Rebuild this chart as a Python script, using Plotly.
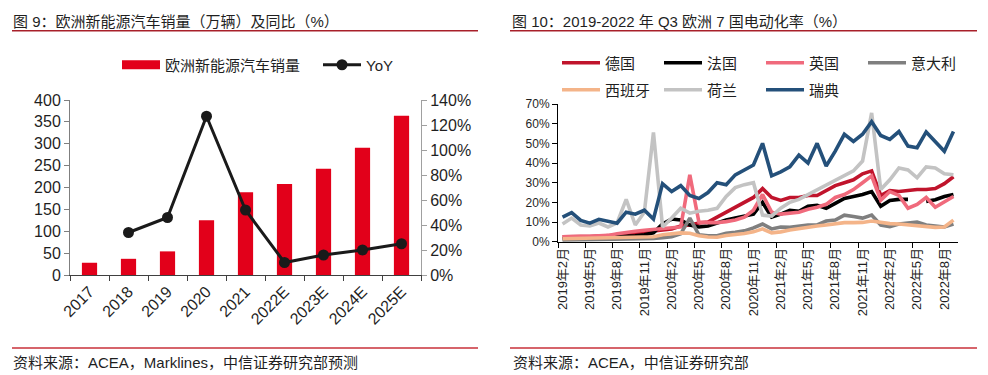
import plotly.graph_objects as go

# ---------------- Left chart data ----------------
years = ["2017", "2018", "2019", "2020", "2021", "2022E", "2023E", "2024E", "2025E"]
sales = [28, 37, 54, 125, 189, 208, 243, 291, 364]          # 万辆
yoy = [None, 34, 46, 127, 52, 10, 16, 20, 25]                # %

# ---------------- Right chart data ----------------
months = [
    "2019年2月", "2019年3月", "2019年4月", "2019年5月", "2019年6月", "2019年7月",
    "2019年8月", "2019年9月", "2019年10月", "2019年11月", "2019年12月",
    "2020年1月", "2020年2月", "2020年3月", "2020年4月", "2020年5月", "2020年6月",
    "2020年7月", "2020年8月", "2020年9月", "2020年10月", "2020年11月", "2020年12月",
    "2021年1月", "2021年2月", "2021年3月", "2021年4月", "2021年5月", "2021年6月",
    "2021年7月", "2021年8月", "2021年9月", "2021年10月", "2021年11月", "2021年12月",
    "2022年1月", "2022年2月", "2022年3月", "2022年4月", "2022年5月", "2022年6月",
    "2022年7月", "2022年8月", "2022年9月",
]
germany = [2.5, 2.7, 2.6, 2.6, 2.8, 2.7, 3.0, 3.5, 4.0, 4.5, 5.5, 6.0, 6.5, 8.0, 8.5,
           9.5, 10.0, 12.5, 15.0, 17.5, 20.0, 22.5, 27.0, 22.5, 21.0, 22.5, 22.5, 23.5,
           23.5, 26.0, 28.5, 30.0, 31.5, 34.5, 36.0, 23.5, 26.0, 25.5, 26.0, 26.5, 26.5,
           27.0, 29.5, 33.0]
france = [1.5, 1.8, 1.7, 2.0, 2.0, 2.2, 2.3, 2.5, 3.0, 3.5, 4.5, 9.0, 11.5, 11.0, 8.5,
          7.5, 8.0, 9.5, 11.0, 12.0, 13.0, 14.0, 20.0, 12.5, 14.0, 16.0, 15.5, 18.0,
          18.5, 17.0, 19.5, 22.0, 23.0, 24.0, 25.5, 18.0, 21.0, 21.5, 21.5, None, 20.5,
          21.3, 23.0, 24.0]
uk = [2.5, 2.8, 2.7, 2.8, 3.0, 3.2, 4.0, 4.8, 5.3, 5.8, 6.2, 6.5, 7.0, 7.5, 34.0,
      10.0, 9.7, 9.7, 10.2, 11.0, 12.5, 16.0, 24.0, 15.0, 14.0, 14.5, 15.0, 16.5,
      17.5, 19.0, 22.5, 24.0, 26.5, 30.0, 33.5, 21.0, 25.5, 23.5, 17.0, 19.0, 22.5,
      17.5, 20.5, 23.0]
italy = [0.8, 0.9, 0.9, 1.0, 1.0, 1.0, 1.0, 1.2, 1.3, 1.4, 1.6, 2.0, 2.5, 4.0, 12.0,
         3.5, 3.0, 3.0, 4.3, 4.8, 5.5, 7.0, 9.0, 6.5, 7.5, 7.3, 8.0, 8.5, 8.5, 10.5,
         11.0, 13.5, 12.8, 12.0, 13.5, 8.5, 7.7, 9.0, 9.5, 10.0, 8.5, 8.0, 7.5, 9.0]
spain = [1.5, 1.6, 1.5, 1.5, 1.6, 1.7, 1.8, 1.8, 1.9, 2.0, 2.5, 3.5, 4.0, 4.5, 4.3,
         3.0, 2.4, 2.3, 3.2, 3.5, 4.2, 5.0, 6.5, 4.5, 5.0, 6.0, 6.8, 7.5, 8.0, 8.5,
         9.0, 9.7, 9.7, 9.8, 10.5, 9.7, 9.2, 9.0, 8.5, 8.0, 7.5, 7.3, 7.5, 11.0]
netherlands = [9.0, 12.0, 8.5, 8.0, 9.5, 7.5, 9.5, 21.5, 8.5, 15.0, 55.5, 7.5, 12.0, 17.0,
               14.5, 15.5, 16.0, 17.0, 23.0, 27.5, 29.0, 30.0, 13.5, 13.0, 17.0, 20.0,
               21.5, 24.0, 26.5, 29.0, 31.5, 33.5, 36.0, 41.0, 65.5, 26.5, 31.5, 37.5,
               36.5, 32.5, 38.0, 37.5, 34.5, 34.0]
sweden = [12.5, 14.8, 10.8, 9.4, 11.4, 10.2, 9.4, 15.0, 14.0, 16.0, 11.5, 29.5, 25.5,
          28.5, 23.5, 22.0, 25.0, 30.0, 29.0, 34.0, 36.5, 39.0, 50.0, 33.5, 35.5, 38.0,
          44.0, 40.0, 50.0, 38.5, 46.0, 54.6, 51.0, 54.6, 61.0, 54.0, 52.0, 56.0, 48.6,
          47.8, 55.8, 51.0, 46.0, 56.0]

series_names = ["德国", "法国", "英国", "意大利", "西班牙", "荷兰", "瑞典"]
series_values = [germany, france, uk, italy, spain, netherlands, sweden]
series_colors = ["#C0142C", "#000000", "#F06A7C", "#7F7F7F", "#F4B489", "#C3C3C3", "#24507A"]
series_legend = ["legend2", "legend2", "legend2", "legend2", "legend3", "legend3", "legend3"]

FONT = "Liberation Sans, Arial, Noto Sans CJK SC, sans-serif"
TXT = "#1f1f1f"
# The page body has an 8px margin: the figure is sized so it fills the window exactly.
OFF = 8
W, H = 988 - OFF, 375 - OFF


def px_x(v):
    return (v - OFF) / W


def px_y(v):
    return 1 - (v - OFF) / H


fig = go.Figure()

# Left: bars
fig.add_trace(go.Bar(x=years, y=sales, marker_color="#E2001A", width=0.39,
                     xaxis="x", yaxis="y", showlegend=False,
                     name="欧洲新能源汽车销量"))
# legend key for the bars (wide red bar key as in the reference)
fig.add_trace(go.Scatter(x=[None], y=[None], mode="lines", xaxis="x", yaxis="y",
                         line=dict(color="#E2001A", width=9),
                         name="欧洲新能源汽车销量", legend="legend"))
fig.add_trace(go.Scatter(x=years, y=yoy, mode="lines+markers", xaxis="x", yaxis="y2",
                         line=dict(color="#1a1a1a", width=3),
                         marker=dict(size=11, color="#1a1a1a"),
                         name="YoY", legend="legend"))

# Right: lines
for nm, vals, col, lg in zip(series_names, series_values, series_colors, series_legend):
    fig.add_trace(go.Scatter(x=months, y=vals, mode="lines", xaxis="x3", yaxis="y3",
                             line=dict(color=col, width=3.6), name=nm, legend=lg,
                             connectgaps=False))


def ax(size, linecolor, **kw):
    d = dict(showgrid=False, zeroline=False, showline=True, automargin=False,
             ticks="outside", ticklen=5, linewidth=1,
             linecolor=linecolor, tickcolor=linecolor,
             tickfont=dict(family=FONT, color=TXT, size=size))
    d.update(kw)
    return d


fig.update_layout(
    template="none",
    width=W, height=H,
    margin=dict(l=0, r=0, t=0, b=0, pad=0, autoexpand=False),
    paper_bgcolor="white", plot_bgcolor="white",
    font=dict(family=FONT, color=TXT),
    hovermode=False,
    xaxis=ax(16, "#404040", domain=[px_x(70), px_x(421)], anchor="y", type="category",
             range=[-0.5, 8.5], tickson="boundaries", tickangle=-45),
    yaxis=ax(16, "#7f7f7f", domain=[px_y(275), px_y(100)], anchor="x",
             range=[0, 400], dtick=50),
    yaxis2=ax(16, "#a0a0a0", overlaying="y", side="right", anchor="x",
              range=[0, 140], dtick=20, ticksuffix="%"),
    xaxis3=ax(13, "#000000", domain=[px_x(558), px_x(958)], anchor="y3", type="category",
              categoryorder="array", categoryarray=months,
              range=[-0.5, len(months) - 0.5], tickmode="linear", tick0=0, dtick=3,
              tickson="boundaries", tickangle=-90),
    yaxis3=ax(12, "#000000", domain=[px_y(241.7), px_y(104)], anchor="x3",
              range=[0, 70], dtick=10, ticksuffix="%"),
    legend=dict(orientation="h", x=px_x(117), xanchor="left", y=px_y(65), yanchor="middle",
                font=dict(family=FONT, size=15, color=TXT), entrywidth=148,
                entrywidthmode="pixels", itemwidth=38, bgcolor="rgba(0,0,0,0)",
                borderwidth=0, traceorder="normal"),
    legend2=dict(orientation="h", x=px_x(557), xanchor="left", y=px_y(63), yanchor="middle",
                 font=dict(family=FONT, size=15, color=TXT), entrywidth=49,
                 entrywidthmode="pixels", itemwidth=38, bgcolor="rgba(0,0,0,0)",
                 borderwidth=0, traceorder="normal"),
    legend3=dict(orientation="h", x=px_x(557), xanchor="left", y=px_y(90), yanchor="middle",
                 font=dict(family=FONT, size=15, color=TXT), entrywidth=49,
                 entrywidthmode="pixels", itemwidth=38, bgcolor="rgba(0,0,0,0)",
                 borderwidth=0, traceorder="normal"),
)

# Titles and sources
texts = [
    ("图 9：欧洲新能源汽车销量（万辆）及同比（%）", 12, 21.5),
    ("图 10：2019-2022 年 Q3 欧洲 7 国电动化率（%）", 511, 21.5),
    ("资料来源：ACEA，Marklines，中信证券研究部预测", 12, 362),
    ("资料来源：ACEA，中信证券研究部", 512, 362),
]
for t, x, y in texts:
    fig.add_annotation(text=t, x=px_x(x), y=px_y(y), xref="paper", yref="paper",
                       xanchor="left", yanchor="middle", showarrow=False, borderpad=0,
                       font=dict(family=FONT, size=15, color=TXT))

# Decorative rules
for x0, x1, y, col, wd in [(12, 478, 30.7, "#A8202A", 1.5), (510, 977, 30.7, "#A8202A", 1.5),
                           (12, 478, 348, "#C8303A", 1.3), (510, 977, 348, "#C8303A", 1.3)]:
    fig.add_shape(type="line", xref="paper", yref="paper", x0=px_x(x0), x1=px_x(x1),
                  y0=px_y(y), y1=px_y(y), line=dict(color=col, width=wd))

fig.write_html("out.html")
